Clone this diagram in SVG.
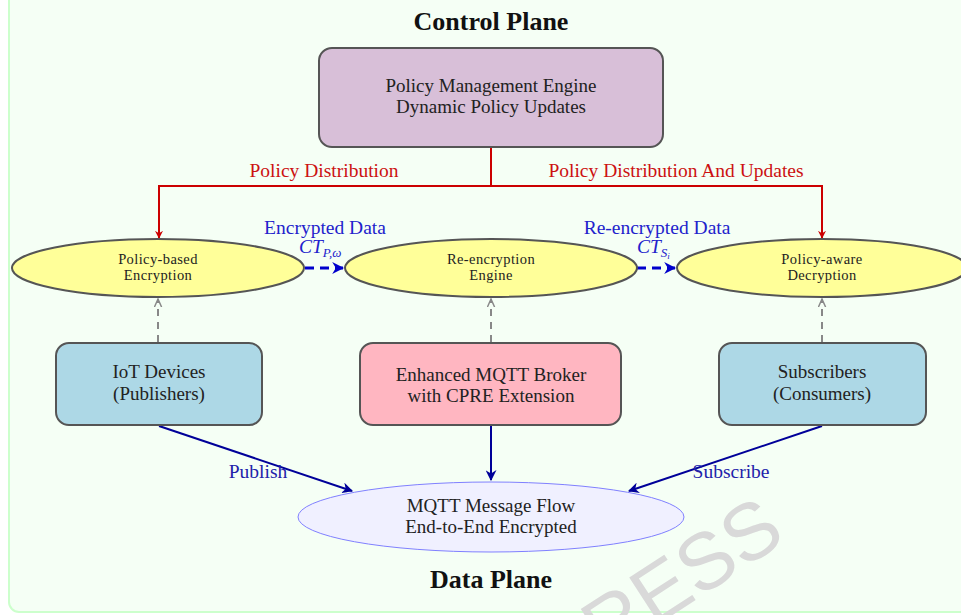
<svg xmlns="http://www.w3.org/2000/svg" width="961" height="615" viewBox="0 0 961 615">
  <defs>
    <style>
      text { font-family: "Liberation Serif", "DejaVu Serif", serif; text-anchor: middle; }
      .title { font-size: 26px; font-weight: bold; fill: #111; }
      .box { stroke: #555; stroke-width: 2; }
      .boxtxt { font-size: 19px; fill: #222; }
      .elltxt { font-size: 14.5px; fill: #222; letter-spacing: 0.4px; }
      .red { fill: none; stroke: #cc0000; stroke-width: 2; }
      .redlbl { font-size: 19.5px; fill: #cc1111; }
      .bluelbl { font-size: 19.5px; fill: #2222cc; }
      .math { font-style: italic; text-anchor: start; }
      .dash { stroke: #0000cc; stroke-width: 3; stroke-dasharray: 9 6; fill: none; }
      .grey { stroke: #888; stroke-width: 2; stroke-dasharray: 7 6; fill: none; }
      .flow { stroke: #000099; stroke-width: 2; fill: none; }
      .flowlbl { font-size: 19.5px; fill: #2222aa; }
      .wm { font-family: "Liberation Sans", Arial, sans-serif; font-size: 80px; fill: #d9d9d9; text-anchor: end; }
    </style>
    <marker id="ahRed" viewBox="0 0 10 10" refX="9" refY="5" markerWidth="8" markerHeight="8" orient="auto" markerUnits="userSpaceOnUse">
      <path d="M0,0 L10,5 L0,10 L3,5 Z" fill="#cc0000"/>
    </marker>
    <marker id="ahBlue" viewBox="0 0 10 10" refX="9" refY="5" markerWidth="12" markerHeight="12" orient="auto" markerUnits="userSpaceOnUse">
      <path d="M0,0 L10,5 L0,10 L3,5 Z" fill="#0000cc"/>
    </marker>
    <marker id="ahGrey" viewBox="0 0 10 10" refX="9" refY="5" markerWidth="9" markerHeight="9" orient="auto" markerUnits="userSpaceOnUse">
      <path d="M0,1 L9,5 L0,9" fill="none" stroke="#888" stroke-width="1.6"/>
    </marker>
    <marker id="ahNavy" viewBox="0 0 10 10" refX="9" refY="5" markerWidth="11" markerHeight="11" orient="auto" markerUnits="userSpaceOnUse">
      <path d="M0,0 L10,5 L0,10 L3,5 Z" fill="#000099"/>
    </marker>
  </defs>

  <!-- page background and panel -->
  <rect x="0" y="0" width="961" height="615" fill="#ffffff"/>
  <rect x="9" y="-12" width="970" height="624" rx="10" fill="#f5fff5" stroke="#ccffcc" stroke-width="2"/>

  <!-- watermark -->
  <text class="wm" x="788" y="540" transform="rotate(-33 788 540)">PRESS</text>

  <text class="title" x="491" y="30">Control Plane</text>
  <text class="title" x="491" y="588">Data Plane</text>

  <!-- connectors -->
  <g id="connectors">
    <path class="red" d="M491,147 V186 H159 V238" marker-end="url(#ahRed)"/>
    <path class="red" d="M491,186 H822 V238" marker-end="url(#ahRed)"/>
    <text class="redlbl" x="324" y="177">Policy Distribution</text>
    <text class="redlbl" x="676" y="177">Policy Distribution And Updates</text>

    <line class="dash" x1="305" y1="268" x2="343" y2="268" marker-end="url(#ahBlue)"/>
    <line class="dash" x1="637" y1="268" x2="675" y2="268" marker-end="url(#ahBlue)"/>
    <text class="bluelbl" x="325" y="234">Encrypted Data</text>
    <text class="bluelbl math" x="299" y="253">CT<tspan font-size="13" dy="4">P,ω</tspan></text>
    <text class="bluelbl" x="657" y="234">Re-encrypted Data</text>
    <text class="bluelbl math" x="637" y="253">CT<tspan font-size="13" dy="4">S</tspan><tspan font-size="9" dy="2">i</tspan></text>

    <line class="grey" x1="158" y1="342" x2="158" y2="299" marker-end="url(#ahGrey)"/>
    <line class="grey" x1="491" y1="342" x2="491" y2="299" marker-end="url(#ahGrey)"/>
    <line class="grey" x1="822" y1="342" x2="822" y2="299" marker-end="url(#ahGrey)"/>

    <line class="flow" x1="159" y1="426" x2="352" y2="491" marker-end="url(#ahNavy)"/>
    <line class="flow" x1="491" y1="426" x2="491" y2="480" marker-end="url(#ahNavy)"/>
    <line class="flow" x1="822" y1="426" x2="629" y2="491" marker-end="url(#ahNavy)"/>
    <text class="flowlbl" x="258" y="478">Publish</text>
    <text class="flowlbl" x="731" y="478">Subscribe</text>
  </g>

  <!-- nodes -->
  <g id="policy-engine">
    <rect class="box" x="319" y="48" width="344" height="99" rx="13" fill="#d8bfd8"/>
    <text class="boxtxt" x="491" y="92">Policy Management Engine</text>
    <text class="boxtxt" x="491" y="113">Dynamic Policy Updates</text>
  </g>

  <g id="pb-encryption">
    <ellipse class="box" cx="158" cy="268" rx="146" ry="29" fill="#ffff99"/>
    <text class="elltxt" x="158" y="264">Policy-based</text>
    <text class="elltxt" x="158" y="280">Encryption</text>
  </g>
  <g id="re-encryption">
    <ellipse class="box" cx="491" cy="268" rx="146" ry="29" fill="#ffff99"/>
    <text class="elltxt" x="491" y="264">Re-encryption</text>
    <text class="elltxt" x="491" y="280">Engine</text>
  </g>
  <g id="pa-decryption">
    <ellipse class="box" cx="822" cy="268" rx="145" ry="29" fill="#ffff99"/>
    <text class="elltxt" x="822" y="264">Policy-aware</text>
    <text class="elltxt" x="822" y="280">Decryption</text>
  </g>

  <g id="iot-devices">
    <rect class="box" x="56" y="343" width="206" height="82" rx="13" fill="#add8e6"/>
    <text class="boxtxt" x="159" y="378">IoT Devices</text>
    <text class="boxtxt" x="159" y="400">(Publishers)</text>
  </g>
  <g id="mqtt-broker">
    <rect class="box" x="360" y="343" width="261" height="82" rx="13" fill="#ffb6c1"/>
    <text class="boxtxt" x="491" y="381">Enhanced MQTT Broker</text>
    <text class="boxtxt" x="491" y="402">with CPRE Extension</text>
  </g>
  <g id="subscribers">
    <rect class="box" x="719" y="343" width="207" height="82" rx="13" fill="#add8e6"/>
    <text class="boxtxt" x="822" y="378">Subscribers</text>
    <text class="boxtxt" x="822" y="400">(Consumers)</text>
  </g>

  <g id="message-flow">
    <ellipse cx="491" cy="517" rx="193" ry="35" fill="#f0f0ff" stroke="#8080ff" stroke-width="1"/>
    <text class="boxtxt" x="491" y="512">MQTT Message Flow</text>
    <text class="boxtxt" x="491" y="533">End-to-End Encrypted</text>
  </g>
</svg>
